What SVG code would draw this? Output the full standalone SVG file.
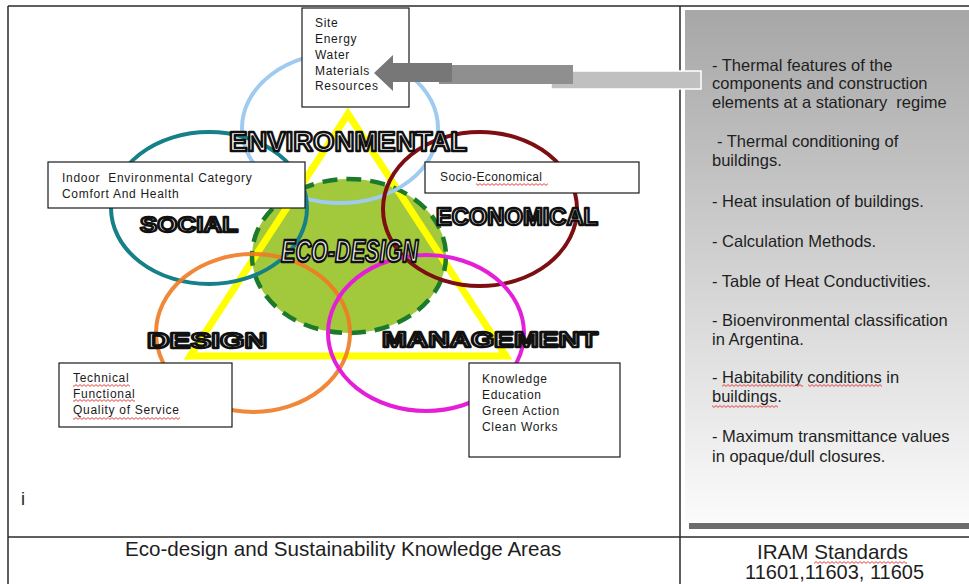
<svg xmlns="http://www.w3.org/2000/svg" width="969" height="584" viewBox="0 0 969 584">
  <defs>
    <linearGradient id="panelGrad" x1="0" y1="0" x2="0" y2="1">
      <stop offset="0" stop-color="#a7a7a7"/>
      <stop offset="0.57" stop-color="#d7d7d7"/>
      <stop offset="1" stop-color="#fbfbfb"/>
    </linearGradient>
    <!-- red wavy spell-check underline -->
    <pattern id="squiggle" width="4" height="3" patternUnits="userSpaceOnUse">
      <path d="M0 0.6 L2 2.4 L4 0.6" fill="none" stroke="#e0302a" stroke-width="0.9"/>
    </pattern>
  </defs>
  <style>
    .box { fill: #ffffff; stroke: #1a1a1a; stroke-width: 1.2; }
    .bt { font-family: "Liberation Sans", Arial, sans-serif; font-size: 12px; letter-spacing: 0.7px; fill: #1a1a1a; }
    .ring { fill: none; stroke-width: 4; }
    .art { font-family: "Liberation Sans", Arial, sans-serif; font-weight: bold; fill: #ffffff; stroke: #111111; stroke-width: 2.4; stroke-linejoin: round; }
    .pt { font-family: "Liberation Sans", Arial, sans-serif; font-size: 16.5px; fill: #1e1e1e; }
    .cap { font-family: "Liberation Sans", Arial, sans-serif; font-size: 20.6px; fill: #1e1e1e; }
    .frame { stroke: #2a2a2a; stroke-width: 1.5; fill: none; }
    .sq { fill: url(#squiggle); }
  </style>

  <rect x="0" y="0" width="969" height="584" fill="#ffffff"/>

  <!-- right panel background with shadow bar -->
  <g id="iram-panel">
    <rect x="685" y="10" width="284" height="512" fill="url(#panelGrad)"/>
    <rect x="689" y="523" width="280" height="6" fill="#6c6c6c"/>
  </g>

  <!-- central eco-design area -->
  <g id="eco-design-area">
    <ellipse cx="349" cy="256" rx="97" ry="77" fill="#a2c83c"/>
  </g>

  <!-- triangle -->
  <g id="triangle">
    <polygon points="348,114 190,356 506,356" fill="none" stroke="#ffff00" stroke-width="7" stroke-linejoin="miter"/>
  </g>

  <g id="eco-design-outline">
    <ellipse cx="349" cy="256" rx="97" ry="77" fill="none" stroke="#1b7a2b" stroke-width="4.5" stroke-dasharray="15 9"/>
  </g>

  <!-- knowledge-area rings -->
  <g id="ring-environmental"><ellipse class="ring" cx="340" cy="128" rx="98" ry="75" stroke="#9fcbf0"/></g>
  <g id="ring-social"><ellipse class="ring" cx="209" cy="208" rx="98" ry="76" stroke="#168088"/></g>
  <g id="ring-economical"><ellipse class="ring" cx="480" cy="209" rx="97" ry="77" stroke="#7d0f12"/></g>
  <g id="ring-design"><ellipse class="ring" cx="253" cy="333" rx="97" ry="79" stroke="#ef7a22" stroke-opacity="0.9"/></g>
  <g id="ring-management"><ellipse class="ring" cx="426" cy="333" rx="98" ry="78" stroke="#e41fd8"/></g>

  <!-- frame -->
  <g id="frame">
    <line class="frame" x1="8" y1="6" x2="969" y2="6"/>
    <line class="frame" x1="8" y1="6" x2="8" y2="584"/>
    <line class="frame" x1="680" y1="6" x2="680" y2="584"/>
    <line class="frame" x1="8" y1="537" x2="969" y2="537"/>
  </g>

  <!-- text boxes -->
  <g id="box-environmental">
    <rect class="box" x="302" y="8" width="107" height="99"/>
    <text class="bt" x="315" y="27">Site</text>
    <text class="bt" x="315" y="43">Energy</text>
    <text class="bt" x="315" y="59">Water</text>
    <text class="bt" x="315" y="75">Materials</text>
    <text class="bt" x="315" y="90">Resources</text>
  </g>

  <g id="box-social">
    <rect class="box" x="48" y="162" width="257" height="46"/>
    <text class="bt" x="62" y="182" xml:space="preserve">Indoor  Environmental Category</text>
    <text class="bt" x="62" y="198">Comfort And Health</text>
  </g>

  <g id="box-economical">
    <rect class="box" x="425" y="162" width="214" height="31"/>
    <text class="bt" x="440" y="181" style="letter-spacing:0.4px">Socio-Economical</text>
    <rect class="sq" x="476" y="183" width="72" height="3"/>
  </g>

  <g id="box-design">
    <rect class="box" x="59" y="363" width="173" height="64"/>
    <text class="bt" x="73" y="382">Technical</text>
    <text class="bt" x="73" y="398">Functional</text>
    <text class="bt" x="73" y="414">Quality of Service</text>
    <rect class="sq" x="73" y="384" width="57" height="3"/>
    <rect class="sq" x="73" y="399" width="62" height="3"/>
    <rect class="sq" x="73" y="417" width="107" height="3"/>
  </g>

  <g id="box-management">
    <rect class="box" x="469" y="363" width="151" height="94"/>
    <text class="bt" x="482" y="383">Knowledge</text>
    <text class="bt" x="482" y="399">Education</text>
    <text class="bt" x="482" y="415">Green Action</text>
    <text class="bt" x="482" y="431">Clean Works</text>
  </g>

  <!-- connector from the IRAM list to the environmental resources -->
  <g id="connectors">
    <rect x="551" y="71" width="150" height="18" fill="#c0c0c0" stroke="#ffffff" stroke-width="1.5"/>
    <rect x="439" y="65" width="134" height="19" fill="#8f8f8f"/>
    <polygon points="374,73 393,55 393,63 452,63 452,82 393,82 393,91" fill="#777777"/>
  </g>

  <!-- area labels -->
  <g id="label-environmental">
    <text class="art" x="229" y="151" font-size="27" textLength="238" lengthAdjust="spacingAndGlyphs">ENVIRONMENTAL</text>
  </g>
  <g id="label-social">
    <text class="art" x="140" y="232" font-size="22" textLength="98" lengthAdjust="spacingAndGlyphs">SOCIAL</text>
  </g>
  <g id="label-economical">
    <text class="art" x="436" y="225" font-size="23" textLength="162" lengthAdjust="spacingAndGlyphs">ECONOMICAL</text>
  </g>
  <g id="label-eco-design">
    <text class="art" x="281" y="262" font-size="32" font-style="italic" style="fill:#eeeeee" textLength="137" lengthAdjust="spacingAndGlyphs">ECO-DESIGN</text>
  </g>
  <g id="label-design">
    <text class="art" x="147" y="348" font-size="22" textLength="120" lengthAdjust="spacingAndGlyphs">DESIGN</text>
  </g>
  <g id="label-management">
    <text class="art" x="382" y="347" font-size="22" textLength="216" lengthAdjust="spacingAndGlyphs">MANAGEMENT</text>
  </g>

  <!-- IRAM standards list -->
  <g id="iram-list">
    <text class="pt" x="712" y="71">- Thermal features of the</text>
    <text class="pt" x="712" y="89">components and construction</text>
    <text class="pt" x="712" y="108" xml:space="preserve">elements at a stationary  regime</text>
    <text class="pt" x="717" y="147">- Thermal conditioning of</text>
    <text class="pt" x="712" y="166">buildings.</text>
    <text class="pt" x="712" y="207">- Heat insulation of buildings.</text>
    <text class="pt" x="712" y="247">- Calculation Methods.</text>
    <text class="pt" x="712" y="287">- Table of Heat Conductivities.</text>
    <text class="pt" x="712" y="326">- Bioenvironmental classification</text>
    <text class="pt" x="712" y="345">in Argentina.</text>
    <text class="pt" x="712" y="383">- Habitability conditions in</text>
    <text class="pt" x="712" y="402">buildings.</text>
    <text class="pt" x="712" y="442">- Maximum transmittance values</text>
    <text class="pt" x="712" y="462">in opaque/dull closures.</text>
    <rect class="sq" x="722" y="384" width="81" height="3"/>
    <rect class="sq" x="808" y="384" width="74" height="3"/>
    <rect class="sq" x="712" y="405" width="66" height="3"/>
  </g>

  <!-- captions -->
  <g id="captions">
    <text class="cap" x="21" y="505" style="font-size:18px">i</text>
    <text class="cap" x="125" y="556">Eco-design and Sustainability Knowledge Areas</text>
    <text class="cap" x="757" y="559">IRAM Standards</text>
    <text class="cap" x="745" y="579" style="font-size:20px">11601,11603, 11605</text>
    <rect class="sq" x="814" y="561" width="93" height="3"/>
  </g>
</svg>
